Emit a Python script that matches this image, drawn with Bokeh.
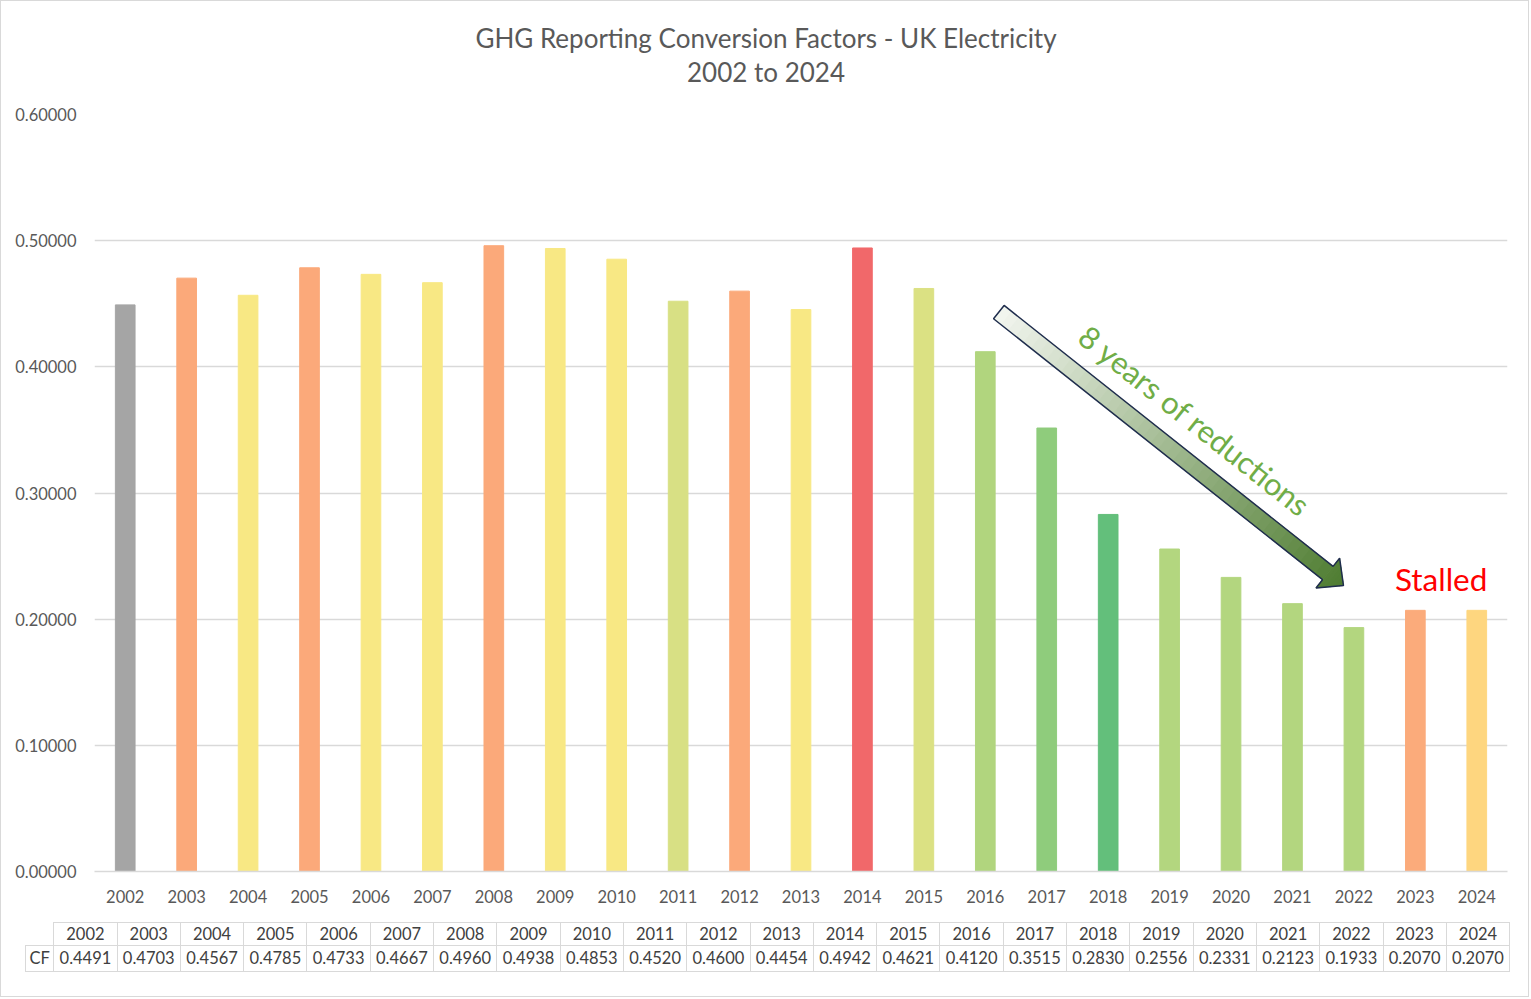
import math
from bokeh.plotting import figure
from bokeh.models import (FactorRange, Range1d, FixedTicker, PrintfTickFormatter,
                          ColumnDataSource, Div)
from bokeh.layouts import column
from bokeh.embed import file_html
from bokeh.resources import INLINE
from bokeh.core.properties import value

# ---------------- data ----------------
years = ["2002", "2003", "2004", "2005", "2006", "2007", "2008", "2009", "2010",
         "2011", "2012", "2013", "2014", "2015", "2016", "2017", "2018", "2019",
         "2020", "2021", "2022", "2023", "2024"]
cf = [0.4491, 0.4703, 0.4567, 0.4785, 0.4733, 0.4667, 0.4960, 0.4938, 0.4853,
      0.4520, 0.4600, 0.4454, 0.4942, 0.4621, 0.4120, 0.3515, 0.2830, 0.2556,
      0.2331, 0.2123, 0.1933, 0.2070, 0.2070]
bar_colors = ["#a5a5a5", "#fba97a", "#f8e884", "#fba97a", "#f8e884", "#f8e884",
              "#fba97a", "#f8e884", "#f8e884", "#d8e084", "#fba97a", "#f8e884",
              "#f1686a", "#dbe183", "#b1d57e", "#8fcc7c", "#63bf7b", "#b3d67f",
              "#b3d67f", "#b3d67f", "#b3d67f", "#fbab7b", "#fed67f"]
y_ticks = [0.0, 0.1, 0.2, 0.3, 0.4, 0.5, 0.6]
title_lines = ["GHG Reporting Conversion Factors - UK Electricity", "2002 to 2024"]
arrow_label = "8 years of reductions"
stalled_label = "Stalled"
row_label = "CF"

FONT = "Lato"
GRID = "#d9d9d9"
TXT = "#595959"
W = 1527
ML, MR = 93, 21

# ---------------- title ----------------
HT = 95
tf = figure(width=W, height=HT, x_range=Range1d(ML, W - MR), y_range=Range1d(HT, 0),
            output_backend="svg", toolbar_location=None,
            x_axis_location=None, y_axis_location=None,
            min_border_left=ML, min_border_right=MR, min_border_top=0, min_border_bottom=0)
tf.outline_line_color = None
tf.grid.visible = False
tf.text(x=[764.5, 764.5], y=[36, 70], text=title_lines, text_align="center",
        text_baseline="middle", text_font=value(FONT), text_font_size="26px",
        text_color=TXT)

# ---------------- main chart ----------------
MT, FH = 18, 757
H1 = 816
MB = H1 - MT - FH
YMAX = 0.6

p = figure(width=W, height=H1, x_range=FactorRange(*years), y_range=Range1d(0, YMAX),
           output_backend="svg", toolbar_location=None,
           min_border_left=ML, min_border_right=MR, min_border_top=MT, min_border_bottom=MB)
p.outline_line_color = None
p.background_fill_color = "white"
p.border_fill_color = "white"

src = ColumnDataSource(dict(year=years, cf=cf, color=bar_colors))
p.vbar(x="year", top="cf", width=0.32, color="color", source=src)

p.xgrid.grid_line_color = None
p.ygrid.grid_line_color = GRID
p.ygrid.grid_line_width = 1.5
p.yaxis.ticker = FixedTicker(ticks=y_ticks)
p.yaxis.formatter = PrintfTickFormatter(format="%.5f")
p.yaxis.axis_line_color = None
p.yaxis.major_tick_line_color = None
p.yaxis.minor_tick_line_color = None
p.yaxis.major_label_standoff = 12
p.xaxis.axis_line_color = GRID
p.xaxis.axis_line_width = 1.5
p.xaxis.major_tick_line_color = None
p.xaxis.major_label_standoff = 12
for ax in (p.xaxis, p.yaxis):
    ax.major_label_text_font = FONT
    ax.major_label_text_font_size = "16.5px"
    ax.major_label_text_color = TXT

# synthetic categorical coordinates: factor i spans [i, i+1]
sx = (W - ML - MR) / len(years)   # px per category
sy = FH / YMAX                     # px per unit value

# arrow annotation
i16, i22 = years.index("2016"), years.index("2022")
tail = (i16 + 0.5 + 0.22, 0.4434)
tip = (i22 + 0.5 - 0.17, 0.2267)
Tx, Ty = tail[0] * sx, tail[1] * sy
Px, Py = tip[0] * sx, tip[1] * sy
L = math.hypot(Px - Tx, Py - Ty)
ux, uy = (Px - Tx) / L, (Py - Ty) / L
nx, ny = -uy, ux
hl, w, h = 20.0, 8.5, 19.0
sb = L - hl


def pt(s, off):
    return ((Tx + ux * s + nx * off) / sx, (Ty + uy * s + ny * off) / sy)


def hw(s):
    return w if s <= sb + 1e-9 else h * (L - s) / hl


c0 = (243, 246, 240)
c1 = (78, 124, 48)
N_SHAFT, N_HEAD = 44, 6
bounds = [sb * k / N_SHAFT for k in range(N_SHAFT + 1)] + \
         [sb + hl * k / N_HEAD for k in range(1, N_HEAD + 1)]
xs, ys, cols = [], [], []
for k in range(len(bounds) - 1):
    s0, s1 = bounds[k], bounds[k + 1]
    s1e = min(s1 + 0.8, L) if k < len(bounds) - 2 else s1
    if s0 < sb - 1e-9:
        h0 = h1 = w
        s1e = min(s1e, sb + 0.3)
    else:
        h0 = h if abs(s0 - sb) < 1e-6 else hw(s0)
        h1 = hw(s1e)
    quad = [pt(s0, h0), pt(s1e, h1), pt(s1e, -h1), pt(s0, -h0)]
    xs.append([q[0] for q in quad])
    ys.append([q[1] for q in quad])
    tt = ((s0 + s1) / 2) / L
    c = tuple(int(round(a + (b - a) * tt)) for a, b in zip(c0, c1))
    cols.append("#%02x%02x%02x" % c)
p.patches(xs, ys, fill_color=cols, line_color=cols, line_width=0.6)

outline = [pt(0, w), pt(sb, w), pt(sb, h), pt(L, 0), pt(sb, -h), pt(sb, -w), pt(0, -w)]
p.patch([q[0] for q in outline], [q[1] for q in outline], fill_color=None,
        line_color="#1f2d4d", line_width=1.5)

lx, ly = pt(L * 0.503, 37)
ang = math.atan2(Py - Ty, Px - Tx)
p.text(x=[lx], y=[ly], text=[arrow_label], angle=ang,
       text_font=value(FONT), text_font_size="31px", text_color="#70ad47",
       text_align="center", text_baseline="middle")

i23 = years.index("2023")
p.text(x=[i23 + 0.5 + 0.42], y=[cf[i23] + 0.025], text=[stalled_label],
       text_font=value(FONT), text_font_size="31.5px", text_color="#ff0000",
       text_align="center", text_baseline="middle")

# ---------------- data table (HTML, built from the arrays) ----------------
H2 = 84
cell = ("border:1.5px solid %s;padding:0;text-align:center;vertical-align:middle;"
        "white-space:nowrap;overflow:hidden;" % GRID)
cols_html = '<col style="width:28.3px">' + "".join('<col style="width:63.3px">' for _ in years)
row1 = '<td style="border:none;padding:0"></td>' + "".join(
    '<td style="%sheight:23px">%s</td>' % (cell, y) for y in years)
row2 = '<td style="%sheight:26px">%s</td>' % (cell, row_label) + "".join(
    '<td style="%sheight:26px">%.4f</td>' % (cell, v) for v in cf)
table_html = (
    '<div style="position:relative;width:%dpx;height:%dpx;background:white;">'
    '<table style="position:absolute;left:24px;top:10px;border-collapse:collapse;'
    'table-layout:fixed;width:%.1fpx;font-family:Lato;font-size:16.5px;color:#404040;'
    'line-height:1;">'
    '<colgroup>%s</colgroup><tr>%s</tr><tr>%s</tr></table></div>'
    % (W, H2, 28.3 + 63.3 * len(years), cols_html, row1, row2))
tbl = Div(text=table_html, width=W, height=H2, margin=(0, 0, 0, 0))

layout = column(tf, p, tbl, spacing=0, styles={"border": "1px solid #d9d9d9"})

open("out.html", "w").write(file_html(layout, INLINE))
